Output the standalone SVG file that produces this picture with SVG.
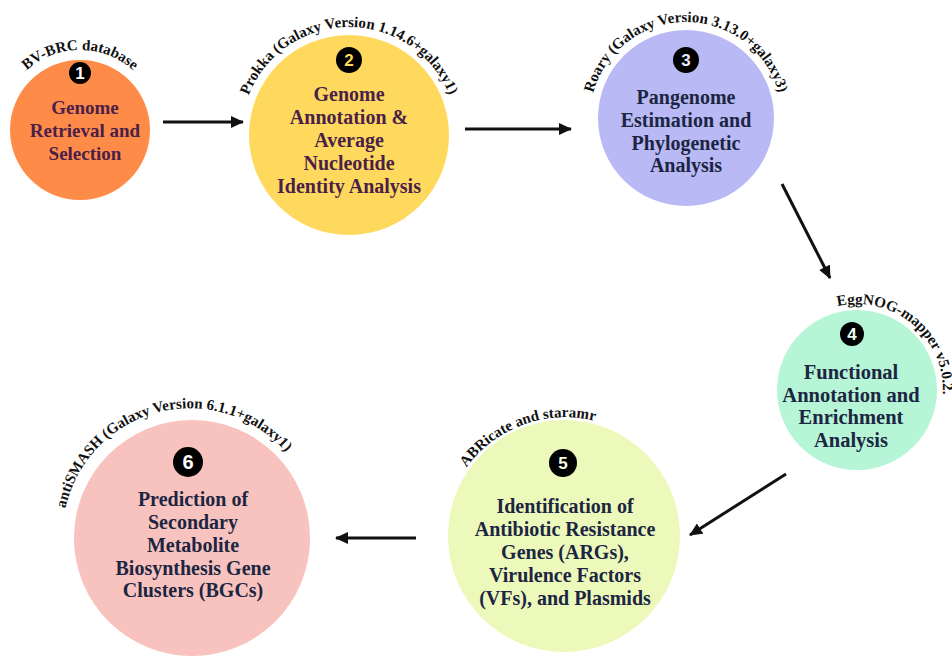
<svg xmlns="http://www.w3.org/2000/svg" width="952" height="657" viewBox="0 0 952 657">
<style>
.t{font-family:"Liberation Serif","Times New Roman",serif;font-weight:bold;font-size:20px;text-anchor:middle}
.p{fill:#4a1f48}
.n{fill:#1c2541}
.lab{font-family:"Liberation Serif","Times New Roman",serif;font-weight:bold;font-size:15px;fill:#111}
.num{font-family:"Liberation Sans",Arial,sans-serif;font-weight:bold;font-size:17px;text-anchor:middle}
.arr{stroke:#111;stroke-width:3;fill:none;marker-end:url(#ah)}
</style>
<defs>
<marker id="ah" markerUnits="userSpaceOnUse" markerWidth="14" markerHeight="12" refX="12" refY="6" orient="auto">
<path d="M0,0 L13,6 L0,12 Z" fill="#111"/>
</marker>
<path id="a1" d="M0 130 A80 80 0 0 1 160 130"/>
<path id="a2" d="M241 135 A108 108 0 0 1 457 135"/>
<path id="a3" d="M590 118 A96 96 0 0 1 782 118"/>
<path id="a4" d="M791.1 334.7 A86 86 0 0 1 922.9 445.3"/>
<path id="a5" d="M449.4 577.7 A122 122 0 0 1 678.6 494.3"/>
<path id="a6" d="M66.5 567.1 A126 126 0 0 1 313.1 504.0"/>
</defs>
<rect width="952" height="657" fill="#fff"/>
<g id="connectors">
<path class="arr" d="M163 122 L243 122"/>
<path class="arr" d="M465 129 L571 129"/>
<path class="arr" d="M782 184 L830 278"/>
<path class="arr" d="M786 474 L690 535"/>
<path class="arr" d="M416 538 L336 538"/>
</g>
<g id="node1">
<circle cx="80" cy="130" r="70" fill="#ff8b48"/>
<text class="lab"><textPath href="#a1" startOffset="50%" text-anchor="middle">BV-BRC database</textPath></text>
<circle cx="80" cy="73" r="11" fill="#000"/>
<text class="num" x="80" y="79" fill="#fff">1</text>
<text class="t p" style="font-size:19px"><tspan x="85" y="114">Genome</tspan><tspan x="85" y="137">Retrieval and</tspan><tspan x="85" y="160">Selection</tspan></text>
</g>
<g id="node2">
<circle cx="349" cy="135" r="100" fill="#ffd95e"/>
<text class="lab"><textPath href="#a2" startOffset="50%" text-anchor="middle">Prokka (Galaxy Version 1.14.6+galaxy1)</textPath></text>
<circle cx="349" cy="60" r="13" fill="#000"/>
<text class="num" x="349" y="66" fill="#ffd95e">2</text>
<text class="t p"><tspan x="349" y="101">Genome</tspan><tspan x="349" y="124">Annotation &amp;</tspan><tspan x="349" y="147">Average</tspan><tspan x="349" y="170">Nucleotide</tspan><tspan x="349" y="193">Identity Analysis</tspan></text>
</g>
<g id="node3">
<circle cx="686" cy="118" r="88" fill="#b8b9f5"/>
<text class="lab"><textPath href="#a3" startOffset="50%" text-anchor="middle">Roary (Galaxy Version 3.13.0+galaxy3)</textPath></text>
<circle cx="686" cy="60" r="13" fill="#000"/>
<text class="num" x="686" y="66" fill="#e8e8ff">3</text>
<text class="t n"><tspan x="686" y="104">Pangenome</tspan><tspan x="686" y="127">Estimation and</tspan><tspan x="686" y="150">Phylogenetic</tspan><tspan x="686" y="172">Analysis</tspan></text>
</g>
<g id="node4">
<circle cx="857" cy="390" r="80" fill="#b6f5d6"/>
<text class="lab"><textPath href="#a4" startOffset="50%" text-anchor="middle">EggNOG-mapper v5.0.2.</textPath></text>
<circle cx="852" cy="334" r="12" fill="#000"/>
<text class="num" x="852" y="340" fill="#e6fff2">4</text>
<text class="t n" style="font-size:20.5px"><tspan x="851" y="379">Functional</tspan><tspan x="851" y="402">Annotation and</tspan><tspan x="851" y="424">Enrichment</tspan><tspan x="851" y="447">Analysis</tspan></text>
</g>
<g id="node5">
<circle cx="564" cy="536" r="116" fill="#ecf9bb"/>
<text class="lab"><textPath href="#a5" startOffset="50%" text-anchor="middle">ABRicate and staramr</textPath></text>
<circle cx="563" cy="463" r="14" fill="#000"/>
<text class="num" x="563" y="469" fill="#f6fde0">5</text>
<text class="t n"><tspan x="565" y="513">Identification of</tspan><tspan x="565" y="536">Antibiotic Resistance</tspan><tspan x="565" y="559">Genes (ARGs),</tspan><tspan x="565" y="582">Virulence Factors</tspan><tspan x="565" y="605">(VFs), and Plasmids</tspan></text>
</g>
<g id="node6">
<circle cx="192" cy="538" r="118" fill="#f8c3be"/>
<text class="lab"><textPath href="#a6" startOffset="50%" text-anchor="middle">antiSMASH (Galaxy Version 6.1.1+galaxy1)</textPath></text>
<circle cx="188" cy="462" r="15" fill="#000"/>
<text class="num" x="188" y="469" fill="#fff" style="font-size:20px">6</text>
<text class="t n"><tspan x="193" y="506">Prediction of</tspan><tspan x="193" y="529">Secondary</tspan><tspan x="193" y="552">Metabolite</tspan><tspan x="193" y="575">Biosynthesis Gene</tspan><tspan x="193" y="597">Clusters (BGCs)</tspan></text>
</g>
</svg>
